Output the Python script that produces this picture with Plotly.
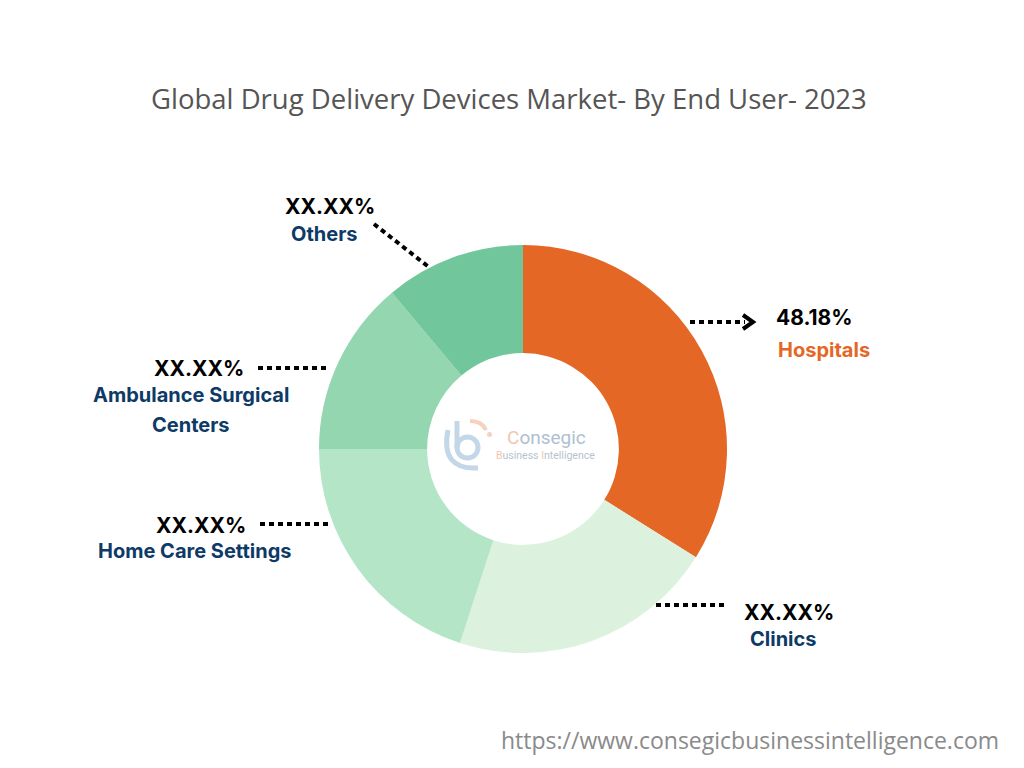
import plotly.graph_objects as go

title = "Global Drug Delivery Devices Market- By End User- 2023"
segments = ["Hospitals", "Clinics", "Home Care Settings", "Ambulance Surgical Centers", "Others"]
shares = [33.9, 21.1, 20.0, 13.9, 11.1]
shown_pct = ["48.18%", "XX.XX%", "XX.XX%", "XX.XX%", "XX.XX%"]
colors = ["#E46726", "#DCF2DF", "#B3E5C6", "#93D6B0", "#72C69B"]
url = "https://www.consegicbusinessintelligence.com"

W, H = 1024, 768
OFF = 8  # page body margin
def px(x): return (x - OFF) / W
def py(y): return 1 - (y - OFF) / H

fig = go.Figure()
fig.add_trace(go.Pie(
    labels=segments, values=shares, marker=dict(colors=colors, line=dict(width=0)),
    hole=0.47, sort=False, direction="clockwise", rotation=0,
    textinfo="none", hoverinfo="label", showlegend=False,
    domain=dict(x=[px(319), px(727)], y=[py(653), py(245)]),
))

navy = "#0D3A66"
dot_line = dict(color="black", width=4, dash="5px,4px")
shapes = [
    dict(type="line", xref="paper", yref="paper", x0=px(374), y0=py(224), x1=px(430), y1=py(268), line=dot_line),
    dict(type="line", xref="paper", yref="paper", x0=px(690), y0=py(322), x1=px(745), y1=py(322), line=dot_line),
    dict(type="path", xref="paper", yref="paper",
         path=f"M {px(743)},{py(315)} L {px(753)},{py(322)} L {px(743)},{py(329)}",
         line=dict(color="black", width=4)),
    dict(type="line", xref="paper", yref="paper", x0=px(258), y0=py(368), x1=px(328), y1=py(368), line=dot_line),
    dict(type="line", xref="paper", yref="paper", x0=px(260), y0=py(524), x1=px(330), y1=py(524), line=dot_line),
    dict(type="line", xref="paper", yref="paper", x0=px(656), y0=py(605), x1=px(726), y1=py(605), line=dot_line),
]

# logo shapes (light)
lb = "#C3D7E8"
lo = "#F6D2BD"
shapes += [
    dict(type="line", xref="paper", yref="paper", x0=px(457), y0=py(421), x1=px(457), y1=py(448), line=dict(color=lb, width=5)),
    dict(type="circle", xref="paper", yref="paper", x0=px(457), y0=py(437), x1=px(478), y1=py(458), line=dict(color=lb, width=5)),
    dict(type="path", xref="paper", yref="paper",
         path=f"M {px(448)},{py(430)} Q {px(440)},{py(470)} {px(478)},{py(468)}",
         line=dict(color=lb, width=5)),
    dict(type="path", xref="paper", yref="paper",
         path=f"M {px(470)},{py(421)} Q {px(482)},{py(421)} {px(486)},{py(430)}",
         line=dict(color=lo, width=4)),
    dict(type="circle", xref="paper", yref="paper", x0=px(487), y0=py(432), x1=px(492), y1=py(437), fillcolor=lo, line=dict(width=0)),
]

ann = []
def t(x, y, s, size, color, bold=True, family="Inter"):
    ann.append(dict(x=px(x), y=py(y), xref="paper", yref="paper", text=(f"<b>{s}</b>" if bold else s),
                    showarrow=False, xanchor="center", yanchor="middle",
                    font=dict(size=size, color=color, family=family)))

t(509, 98, title, 27.5, "#555555", bold=False, family="Open Sans")
t(330, 207, shown_pct[4], 21, "black")
t(324, 234, segments[4], 20, navy)
t(814, 318, shown_pct[0], 21, "black")
t(824, 350, segments[0], 20, colors[0])
t(199, 368, shown_pct[3], 21, "black")
t(191, 395, "Ambulance Surgical", 20, navy)
t(191, 425, "Centers", 20, navy)
t(201, 525, shown_pct[2], 21, "black")
t(195, 551, segments[2], 20, navy)
t(789, 612, shown_pct[1], 21, "black")
t(783, 639, segments[1], 20, navy)
t(750, 740, url, 23, "#8A8A8A", bold=False, family="Open Sans")
t(546, 437, "<span style='color:#F3C6AC'>C</span>onsegic", 19, "#AFC0D2", bold=False, family="Roboto")
t(545, 455, "<span style='color:#F3C6AC'>B</span>usiness <span style='color:#F3C6AC'>I</span>ntelligence", 10.5, "#B5C3D1", bold=False, family="Roboto")

fig.update_layout(
    width=W, height=H, margin=dict(l=0, r=0, t=0, b=0),
    paper_bgcolor="white", plot_bgcolor="white",
    shapes=shapes, annotations=ann,
)
fig.write_html("out.html")
